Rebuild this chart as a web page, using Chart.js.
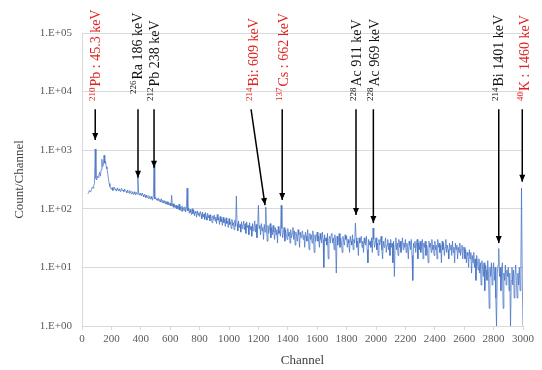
<!DOCTYPE html>
<html>
<head>
<meta charset="utf-8">
<script src="https://cdn.jsdelivr.net/npm/chart.js@4.4.1/dist/chart.umd.min.js"></script>
<style>
  body { margin: 0; background: #fff; }
  #wrap { width: 542px; height: 370px; }
</style>
</head>
<body>
<div id="wrap"><canvas id="myChart" width="542" height="370"></canvas></div>
<script>
// spectrum: counts every 5 channels, starting at channel 40
const firstChannel = 40
const channelStep = 5
const counts = [
  180, 190, 205, 195, 200, 215, 235, 225, 250, 270, 1050, 330,
  310, 360, 340, 380, 420, 360, 460, 700, 520, 560, 820, 600, 650, 520, 480, 400, 320, 270, 240, 225,
  215, 230, 205, 222, 235, 210, 218, 200, 228, 212, 204, 220, 198, 214, 225, 202, 208, 196, 218, 205,
  200, 188, 210, 194, 185, 205, 190, 180, 198, 186, 175, 195, 182, 172, 190, 178, 340, 192, 170, 184,
  176, 165, 185, 170, 160, 178, 168, 155, 172, 160, 150, 168, 156, 146, 162, 150, 140, 158, 560, 148,
  155, 142, 150, 138, 152, 135, 145, 130, 148, 128, 140, 125, 138, 122, 135, 120, 132, 118, 128, 115,
  125, 112, 170, 110, 122, 106, 118, 104, 115, 100, 112, 98, 120, 95, 108, 92, 112, 90, 105, 94,
  108, 88, 102, 225, 92, 104, 84, 98, 88, 80, 100, 82, 94, 76, 90, 84, 72, 92, 78, 86,
  74, 90, 80, 68, 88, 72, 82, 66, 86, 74, 64, 84, 70, 78, 62, 80, 68, 58, 76, 66,
  78, 62, 72, 56, 80, 64, 70, 54, 74, 60, 68, 52, 72, 58, 66, 50, 70, 56, 62, 48,
  68, 54, 60, 46, 66, 52, 58, 44, 64, 50, 165, 56, 42, 62, 48, 54, 40, 60, 46, 52,
  62, 44, 56, 38, 60, 48, 52, 36, 58, 44, 50, 34, 56, 42, 48, 62, 40, 54, 32, 50,
  115, 46, 52, 36, 56, 42, 48, 30, 54, 40, 107, 46, 28, 52, 38, 44, 56, 32, 48, 36,
  52, 40, 30, 48, 36, 44, 26, 50, 38, 42, 34, 115, 46, 32, 40, 48, 28, 44, 36, 30,
  46, 34, 40, 26, 44, 32, 38, 48, 30, 42, 24, 40, 34, 28, 44, 36, 22, 40, 32, 38,
  42, 30, 36, 22, 40, 34, 28, 44, 32, 20, 38, 30, 36, 26, 42, 32, 18, 36, 28, 34,
  40, 28, 34, 22, 38, 30, 26, 40, 30, 10, 36, 28, 32, 24, 38, 14, 30, 34, 26, 36,
  38, 26, 32, 20, 36, 28, 8, 34, 24, 30, 38, 22, 32, 26, 18, 34, 28, 24, 36, 30,
  34, 22, 30, 26, 18, 34, 28, 24, 36, 20, 30, 26, 57, 32, 22, 28, 16, 32, 26, 30,
  34, 22, 28, 18, 32, 26, 24, 34, 20, 12, 30, 24, 28, 22, 32, 18, 47, 30, 22, 26,
  32, 20, 26, 16, 30, 24, 28, 34, 20, 14, 28, 22, 26, 32, 18, 24, 30, 20, 26, 16,
  30, 22, 26, 12, 28, 7, 24, 32, 20, 26, 16, 30, 22, 28, 18, 24, 32, 20, 26, 22,
  30, 18, 26, 22, 14, 28, 24, 20, 30, 16, 6, 26, 22, 28, 18, 24, 30, 14, 26, 20,
  28, 18, 24, 30, 14, 26, 22, 28, 16, 24, 20, 12, 28, 22, 26, 18, 30, 20, 24, 16,
  28, 20, 24, 14, 30, 22, 26, 18, 24, 12, 28, 20, 26, 16, 22, 30, 18, 24, 20, 14,
  26, 20, 24, 16, 28, 18, 22, 12, 26, 20, 24, 14, 22, 18, 26, 16, 20, 24, 14, 22,
  22, 14, 20, 12, 18, 16, 10, 20, 14, 18, 8, 16, 12, 18, 10, 14, 6, 16, 12, 9,
  14, 8, 12, 5, 13, 10, 7, 12, 4, 11, 9, 6, 13, 8, 2, 10, 7, 12, 5, 9,
  12, 6, 10, 3, 1, 8, 11, 21, 7, 10, 4, 9, 12, 2, 8, 6, 11, 5, 9, 7,
  10, 4, 8, 1, 6, 10, 5, 9, 3, 7, 11, 6, 3, 8, 5, 10, 4, 7, 225, 6,
  1
]

const yTicks = [1, 10, 100, 1000, 10000, 100000]

// peak labels
const isotopes = ['210', '226', '212', '214', '137', '228', '228', '214', '40']
const peakNames = ['Pb : 45.3 keV', 'Ra 186 keV', 'Pb 238 keV', 'Bi: 609 keV', 'Cs : 662 keV',
  'Ac 911 keV', 'Ac 969 keV', 'Bi 1401 keV', 'K : 1460 keV']
const labelColors = ['#e0201c', '#111', '#111', '#e0201c', '#e0201c', '#111', '#111', '#111', '#e0201c']
const labelChannels = [90, 374, 490, 1163, 1367, 1868, 1986, 2833, 3007]
const labelBase = [6900, 9100, 6900, 6900, 6900, 6900, 6900, 6900, 6900]
const arrowFrom = [90, 381, 490, 1150, 1362, 1864, 1982, 2835, 2995]
const arrowTo = [90, 381, 490, 1245, 1362, 1864, 1982, 2835, 2995]
const arrowStart = 5000
const arrowTip = [1500, 340, 500, 116, 141, 78, 57, 26, 290]

const spectrum = counts.map((c, i) => ({ x: firstChannel + i * channelStep, y: c }))

const peakLabels = {
    id: 'peakLabels',
    afterDraw(chart) {
        const ctx = chart.ctx
        const xs = chart.scales.x
        const ys = chart.scales.y
        ctx.save()
        for (let i = 0; i < peakNames.length; i++) {
            // arrow
            const x0 = xs.getPixelForValue(arrowFrom[i])
            const y0 = ys.getPixelForValue(arrowStart)
            const x1 = xs.getPixelForValue(arrowTo[i])
            const y1 = ys.getPixelForValue(arrowTip[i])
            ctx.strokeStyle = '#000'
            ctx.lineWidth = 1.5
            ctx.beginPath()
            ctx.moveTo(x0, y0)
            ctx.lineTo(x1, y1)
            ctx.stroke()
            const a = Math.atan2(y1 - y0, x1 - x0)
            ctx.fillStyle = '#000'
            ctx.beginPath()
            ctx.moveTo(x1, y1)
            ctx.lineTo(x1 - 7 * Math.cos(a) + 3 * Math.sin(a), y1 - 7 * Math.sin(a) - 3 * Math.cos(a))
            ctx.lineTo(x1 - 7 * Math.cos(a) - 3 * Math.sin(a), y1 - 7 * Math.sin(a) + 3 * Math.cos(a))
            ctx.closePath()
            ctx.fill()

            // rotated label
            ctx.save()
            ctx.translate(xs.getPixelForValue(labelChannels[i]), ys.getPixelForValue(labelBase[i]))
            ctx.rotate(-Math.PI / 2)
            ctx.fillStyle = labelColors[i]
            ctx.textAlign = 'left'
            ctx.textBaseline = 'middle'
            ctx.font = '9px "Liberation Serif"'
            ctx.fillText(isotopes[i], 0, -3)
            const w = ctx.measureText(isotopes[i]).width
            ctx.font = '14px "Liberation Serif"'
            ctx.fillText(peakNames[i], w + 1, 1)
            ctx.restore()
        }
        ctx.restore()
    }
}

const config = {
    type: 'line',
    data: {
        datasets: [{
            data: spectrum,
            borderColor: 'rgba(68,114,196,0.75)',
            borderWidth: 1,
            pointRadius: 0,
            tension: 0,
            fill: false
        }]
    },
    options: {
        responsive: false,
        animation: false,
        layout: { padding: { left: 0, top: 33, right: 19, bottom: 0 } },
        plugins: { legend: { display: false }, tooltip: { enabled: false } },
        scales: {
            x: {
                type: 'linear',
                min: 0,
                max: 3000,
                afterFit: s => { s.height = 44 },
                border: { color: '#d9d9d9' },
                grid: { drawOnChartArea: false, color: '#d9d9d9', tickLength: 4 },
                ticks: {
                    stepSize: 200,
                    autoSkip: false,
                    maxRotation: 0,
                    padding: 3,
                    color: '#595959',
                    font: { family: 'Liberation Serif', size: 11 },
                    callback: v => String(v)
                },
                title: {
                    display: true,
                    text: 'Channel',
                    color: '#404040',
                    padding: { top: 4, bottom: 2 },
                    font: { family: 'Liberation Serif', size: 13 }
                }
            },
            y: {
                type: 'logarithmic',
                min: 1,
                max: 100000,
                afterFit: s => { s.width = 82 },
                afterBuildTicks: s => { s.ticks = yTicks.map(v => ({ value: v })) },
                border: { color: '#d9d9d9' },
                grid: { color: '#d9d9d9', drawTicks: false },
                ticks: {
                    padding: 10,
                    color: '#595959',
                    font: { family: 'Liberation Serif', size: 11 },
                    callback: v => '1.E+' + String(Math.round(Math.log10(v))).padStart(2, '0')
                },
                title: {
                    display: true,
                    text: 'Count/Channel',
                    color: '#404040',
                    padding: { top: 12, bottom: 0 },
                    font: { family: 'Liberation Serif', size: 13 }
                }
            }
        }
    },
    plugins: [peakLabels]
}

const myChart = new Chart(document.getElementById('myChart'), config)
</script>
</body>
</html>
